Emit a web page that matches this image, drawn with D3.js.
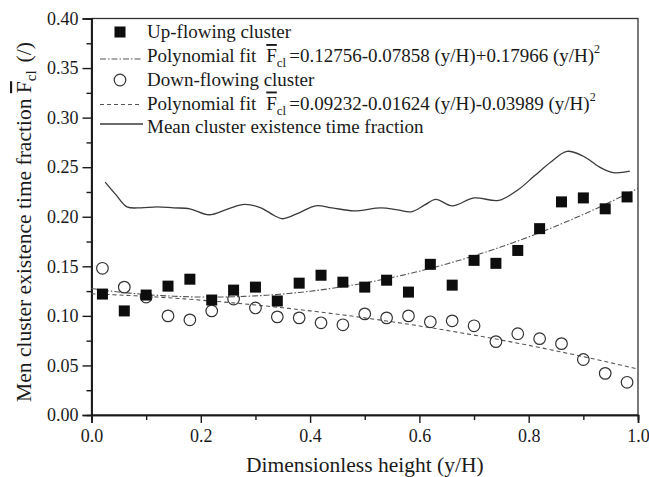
<!DOCTYPE html>
<html>
<head>
<meta charset="utf-8">
<script src="https://cdn.jsdelivr.net/npm/d3@7"></script>
<style>
  html, body { margin: 0; padding: 0; background: #fff; }
  svg text, svg tspan { font-family: "Liberation Serif", "Times New Roman", serif !important; }
</style>
</head>
<body>
<svg id="chart" width="649" height="477" style="display:block"></svg>
<script>
// Measured heights (y/H) shared by both cluster series
const heights = [0.02, 0.06, 0.10, 0.14, 0.18, 0.22, 0.26, 0.30, 0.34, 0.38, 0.42, 0.46, 0.50,
                 0.54, 0.58, 0.62, 0.66, 0.70, 0.74, 0.78, 0.82, 0.86, 0.90, 0.94, 0.98];
// Existence time fraction of up-flowing clusters
const upFlowing = [0.122, 0.105, 0.121, 0.130, 0.137, 0.116, 0.126, 0.129, 0.115, 0.133, 0.141, 0.134, 0.129,
                   0.136, 0.124, 0.152, 0.131, 0.156, 0.153, 0.166, 0.188, 0.215, 0.219, 0.208, 0.220];
// Existence time fraction of down-flowing clusters
const downFlowing = [0.148, 0.129, 0.119, 0.100, 0.096, 0.105, 0.117, 0.108, 0.099, 0.098, 0.093, 0.091, 0.102,
                     0.098, 0.100, 0.094, 0.095, 0.090, 0.074, 0.082, 0.077, 0.072, 0.056, 0.042, 0.033];
// Mean cluster existence time fraction profile
const meanHeights  = [0.025, 0.045, 0.065, 0.09, 0.12, 0.15, 0.18, 0.215, 0.25, 0.28, 0.31, 0.335, 0.35,
                      0.38, 0.41, 0.44, 0.48, 0.53, 0.56, 0.585, 0.61, 0.63, 0.66, 0.70, 0.745, 0.78,
                      0.81, 0.84, 0.87, 0.90, 0.93, 0.955, 0.985];
const meanFraction = [0.235, 0.222, 0.210, 0.209, 0.210, 0.209, 0.208, 0.202, 0.208, 0.2125, 0.209, 0.201, 0.198,
                      0.204, 0.211, 0.209, 0.206, 0.209, 0.207, 0.205, 0.212, 0.2175, 0.211, 0.219, 0.2165, 0.227,
                      0.241, 0.255, 0.266, 0.261, 0.250, 0.2445, 0.246];
// Quadratic fit coefficients [c0, c1, c2] of each fitted curve
const upFitCoef   = [0.12756, -0.07858, 0.17966];
const downFitCoef = [0.1223, -0.0212, -0.0548];
// Axis ticks
const xTickValues = [0.0, 0.2, 0.4, 0.6, 0.8, 1.0];
const xMinorTicks = [0.1, 0.3, 0.5, 0.7, 0.9];
const yTickValues = [0.00, 0.05, 0.10, 0.15, 0.20, 0.25, 0.30, 0.35, 0.40];
const yMinorTicks = [0.025, 0.075, 0.125, 0.175, 0.225, 0.275, 0.325, 0.375];
// Legend text
const legendLabels = ["Up-flowing cluster", "Polynomial fit", "Down-flowing cluster", "Polynomial fit",
                      "Mean cluster existence time fraction"];
const fitFormulas = ["=0.12756-0.07858 (y/H)+0.17966 (y/H)", "=0.09232-0.01624 (y/H)-0.03989 (y/H)"];

const svg = d3.select("#chart");
const m = { left: 91.5, right: 638, top: 18.5, bottom: 415 };
const x = d3.scaleLinear().domain([0, 1]).range([m.left, m.right]);
const y = d3.scaleLinear().domain([0, 0.4]).range([m.bottom, m.top]);

const ink = "#1a1a1a";

// Frame
svg.append("rect")
  .attr("x", m.left).attr("y", m.top)
  .attr("width", m.right - m.left).attr("height", m.bottom - m.top)
  .attr("fill", "none").attr("stroke", "#333").attr("stroke-width", 1.3);

function styleAxis(g, size) {
  g.attr("font-family", null);
  g.selectAll(".domain").attr("stroke", ink).attr("stroke-width", 1.6);
  g.selectAll(".tick line").attr("stroke", ink).attr("stroke-width", 1.4);
  g.selectAll(".tick text").attr("fill", ink).attr("font-size", size);
}

// Y axis
const yAxis = svg.append("g").attr("transform", `translate(${m.left},0)`)
  .call(d3.axisLeft(y).tickValues(yTickValues).tickSize(9).tickPadding(4).tickFormat(d3.format(".2f")));
styleAxis(yAxis, 18);
const yMinor = svg.append("g").attr("transform", `translate(${m.left},0)`)
  .call(d3.axisLeft(y).tickValues(yMinorTicks).tickSize(5).tickFormat(""));
styleAxis(yMinor, 18);

// X axis
const xAxis = svg.append("g").attr("transform", `translate(0,${m.bottom})`)
  .call(d3.axisBottom(x).tickValues(xTickValues).tickSize(8).tickPadding(6).tickFormat(d3.format(".1f")));
styleAxis(xAxis, 18);
const xMinor = svg.append("g").attr("transform", `translate(0,${m.bottom})`)
  .call(d3.axisBottom(x).tickValues(xMinorTicks).tickSize(5).tickFormat(""));
styleAxis(xMinor, 18);

// Axis titles
svg.append("text")
  .attr("x", (m.left + m.right) / 2).attr("y", 472)
  .attr("text-anchor", "middle").attr("font-size", 21.5).attr("fill", ink)
  .text("Dimensionless height (y/H)");

const yTitle = svg.append("text")
  .attr("transform", `translate(31,222) rotate(-90)`)
  .attr("text-anchor", "middle").attr("font-size", 21.5).attr("fill", ink);
yTitle.append("tspan").text("Men cluster existence time fraction ");
yTitle.append("tspan").attr("text-decoration", "overline").text("F");
yTitle.append("tspan").attr("font-size", 15).attr("dy", 5).text("cl");
yTitle.append("tspan").attr("dy", -5).attr("dx", 8).text("(/)");

// Fitted curves
const fitXs = d3.range(0, 1.0001, 0.01);
const poly = c => t => c[0] + c[1] * t + c[2] * t * t;
const line = d3.line().x(d => x(d[0])).y(d => y(d[1]));

svg.append("path")
  .attr("d", line(fitXs.map(t => [t, poly(upFitCoef)(t)])))
  .attr("fill", "none").attr("stroke", "#555").attr("stroke-width", 1.1)
  .attr("stroke-dasharray", "6,2,1.5,2");
svg.append("path")
  .attr("d", line(fitXs.map(t => [t, poly(downFitCoef)(t)])))
  .attr("fill", "none").attr("stroke", "#555").attr("stroke-width", 1.1)
  .attr("stroke-dasharray", "4,3");

// Mean existence time fraction
svg.append("path")
  .attr("d", d3.line().curve(d3.curveCatmullRom.alpha(0.5))
    .x((d, i) => x(meanHeights[i])).y(d => y(d))(meanFraction))
  .attr("fill", "none").attr("stroke", "#3a3a3a").attr("stroke-width", 1.3);

// Down-flowing cluster markers
const sq = 11, r = 5.8;
svg.append("g").selectAll("circle").data(downFlowing).join("circle")
  .attr("cx", (d, i) => x(heights[i])).attr("cy", d => y(d)).attr("r", r)
  .attr("fill", "none").attr("stroke", "#333").attr("stroke-width", 1.2);

// Up-flowing cluster markers
svg.append("g").selectAll("rect").data(upFlowing).join("rect")
  .attr("x", (d, i) => x(heights[i]) - sq / 2).attr("y", d => y(d) - sq / 2)
  .attr("width", sq).attr("height", sq).attr("fill", "#0d0d0d");

// Legend
const rowY = [32, 56, 80, 103.5, 127];
const lg = svg.append("g");
const textX = 147, sampleX0 = 100, sampleX1 = 142;
lg.append("rect").attr("x", 120 - sq / 2).attr("y", rowY[0] - sq / 2).attr("width", sq).attr("height", sq).attr("fill", "#0d0d0d");
lg.append("line").attr("x1", sampleX0).attr("x2", sampleX1).attr("y1", rowY[1] + 3).attr("y2", rowY[1] + 3)
  .attr("stroke", "#555").attr("stroke-width", 1.1).attr("stroke-dasharray", "6,2,1.5,2");
lg.append("circle").attr("cx", 120).attr("cy", rowY[2]).attr("r", r)
  .attr("fill", "none").attr("stroke", "#333").attr("stroke-width", 1.2);
lg.append("line").attr("x1", sampleX0).attr("x2", sampleX1).attr("y1", rowY[3] + 1).attr("y2", rowY[3] + 1)
  .attr("stroke", "#555").attr("stroke-width", 1.1).attr("stroke-dasharray", "4,3");
lg.append("line").attr("x1", sampleX0).attr("x2", sampleX1 + 1).attr("y1", rowY[4] - 3).attr("y2", rowY[4] - 3)
  .attr("stroke", "#3a3a3a").attr("stroke-width", 1.3);

legendLabels.forEach((label, i) => {
  const t = lg.append("text").attr("x", textX).attr("y", rowY[i] + 6)
    .attr("font-size", 19).attr("fill", ink);
  t.append("tspan").text(label);
  if (i === 1 || i === 3) {
    const f = fitFormulas[i === 1 ? 0 : 1];
    t.append("tspan").attr("dx", 10).attr("text-decoration", "overline").text("F");
    t.append("tspan").attr("font-size", 13).attr("dy", 5).text("cl");
    t.append("tspan").attr("dy", -5).attr("dx", 3).text(f);
    t.append("tspan").attr("font-size", 12).attr("dy", -9).text("2");
  }
});
</script>
</body>
</html>
